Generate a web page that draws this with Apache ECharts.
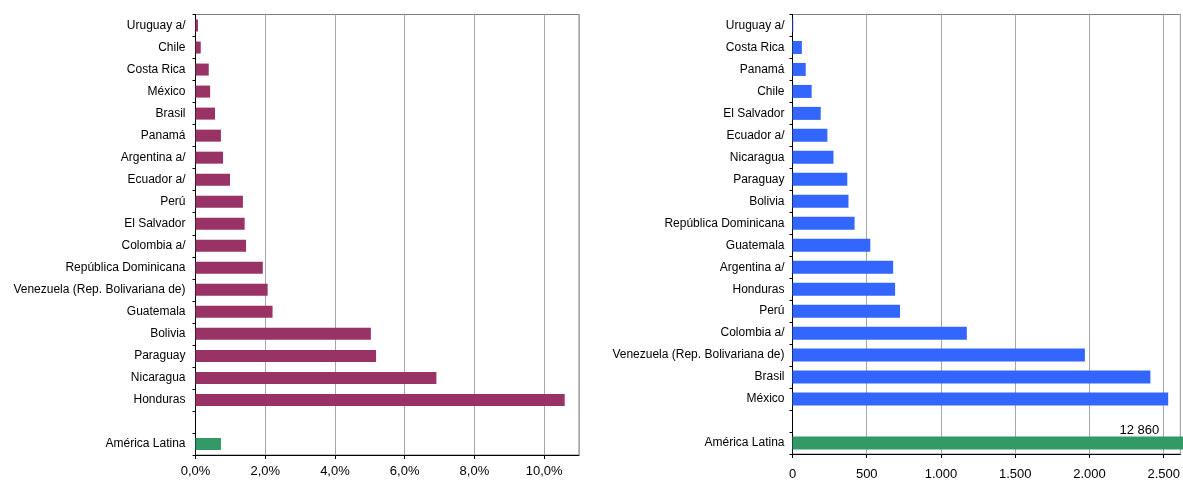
<!DOCTYPE html>
<html>
<head>
<meta charset="utf-8">
<script src="https://cdn.jsdelivr.net/npm/echarts@6/dist/echarts.min.js"></script>
<style>
  html, body { margin: 0; padding: 0; background: #fff; }
  #chart { width: 1183px; height: 481px; }
</style>
</head>
<body>
<div id="chart"></div>
<script>
// left panel: percentages
const leftCountries = ['Uruguay a/', 'Chile', 'Costa Rica', 'México', 'Brasil', 'Panamá', 'Argentina a/', 'Ecuador a/', 'Perú', 'El Salvador', 'Colombia a/', 'República Dominicana', 'Venezuela (Rep. Bolivariana de)', 'Guatemala', 'Bolivia', 'Paraguay', 'Nicaragua', 'Honduras']
const leftShares = [0.07, 0.15, 0.38, 0.42, 0.56, 0.73, 0.79, 0.99, 1.36, 1.41, 1.45, 1.93, 2.07, 2.21, 5.03, 5.18, 6.91, 10.59]

// right panel: amounts
const rightCountries = ['Uruguay a/', 'Costa Rica', 'Panamá', 'Chile', 'El Salvador', 'Ecuador a/', 'Nicaragua', 'Paraguay', 'Bolivia', 'República Dominicana', 'Guatemala', 'Argentina a/', 'Honduras', 'Perú', 'Colombia a/', 'Venezuela (Rep. Bolivariana de)', 'Brasil', 'México']
const rightAmounts = [5, 63, 89, 129, 190, 235, 276, 369, 377, 418, 524, 678, 691, 724, 1174, 1969, 2410, 2530]

const totalLabel = 'América Latina'
const totalShare = 0.73
const totalAmount = 12860

const font = 'Liberation Sans, Arial, sans-serif'
const green = '#339966'

const fmtPct = (v) => v.toFixed(1).replace('.', ',') + '%'
const fmtNum = (v) => String(v).replace(/\B(?=(\d{3})+(?!\d))/g, '.')

const cats = (list) => list.concat(['', totalLabel])

const yAxisBase = {
  type: 'category',
  inverse: true,
  axisLine: { lineStyle: { color: '#000', width: 1 } },
  axisTick: { show: true, alignWithLabel: false, length: 3, lineStyle: { color: '#000' } },
  axisLabel: { color: '#000', fontFamily: font, fontSize: 12 },
  splitLine: { show: false },
}

const xAxisBase = {
  type: 'value',
  min: 0,
  axisLine: { show: true, lineStyle: { color: '#000', width: 1 } },
  axisTick: { show: true, length: 4, lineStyle: { color: '#000' } },
  axisLabel: { color: '#000', fontFamily: font, fontSize: 13, showMaxLabel: false },
  splitLine: { show: true, lineStyle: { color: '#a6a6a6', width: 1 } },
}

const leftData = leftShares.concat([null, { value: totalShare, itemStyle: { color: green } }])
const rightData = rightAmounts.concat([null, {
  value: totalAmount,
  itemStyle: { color: green },
  label: {
    show: true,
    position: [327, -13],
    formatter: () => String(totalAmount).replace(/\B(?=(\d{3})+(?!\d))/g, ' '),
    color: '#000',
    fontFamily: font,
    fontSize: 13,
  },
}])

const chart = echarts.init(document.getElementById('chart'))
chart.setOption({
  animation: false,
  backgroundColor: '#fff',
  grid: [
    { left: 195.5, right: 604, top: 14.5, bottom: 26, show: true, borderColor: '#808080', borderWidth: 1 },
    { left: 792.5, right: -1, top: 14.5, bottom: 22, show: true, borderColor: '#808080', borderWidth: 1 },
  ],
  xAxis: [
    { ...xAxisBase, gridIndex: 0, max: 11, interval: 2, axisLabel: { ...xAxisBase.axisLabel, margin: 10, formatter: fmtPct } },
    { ...xAxisBase, gridIndex: 1, max: 2612, interval: 500, axisLabel: { ...xAxisBase.axisLabel, margin: 14, formatter: fmtNum } },
  ],
  yAxis: [
    { ...yAxisBase, gridIndex: 0, data: cats(leftCountries), axisLabel: { ...yAxisBase.axisLabel, margin: 10 } },
    { ...yAxisBase, gridIndex: 1, data: cats(rightCountries), axisLabel: { ...yAxisBase.axisLabel, margin: 8 } },
  ],
  series: [
    {
      type: 'bar', xAxisIndex: 0, yAxisIndex: 0, data: leftData,
      barWidth: 12, itemStyle: { color: '#993366' },
    },
    {
      type: 'bar', xAxisIndex: 1, yAxisIndex: 1, data: rightData,
      barWidth: 13, clip: false, itemStyle: { color: '#3366ff' },
    },
  ],
})
</script>
</body>
</html>
